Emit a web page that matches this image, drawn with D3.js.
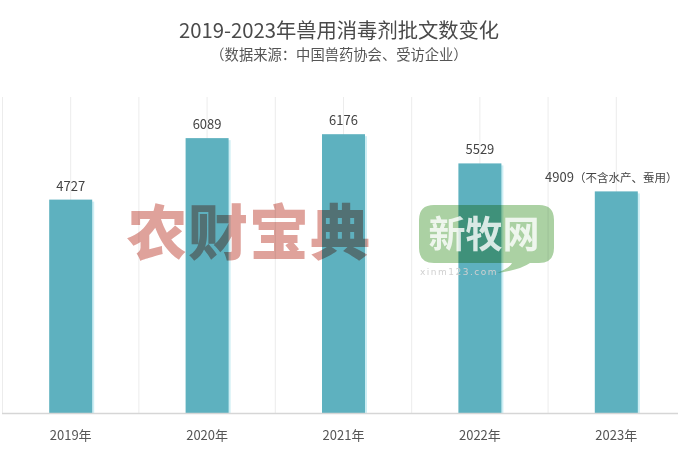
<!DOCTYPE html>
<html><head><meta charset="utf-8">
<script src="https://cdn.jsdelivr.net/npm/d3@7"></script>
<style>
html,body{margin:0;padding:0;background:#fff;}
svg{display:block;font-family:"Noto Sans CJK SC","Noto Sans",sans-serif;}
</style></head>
<body>
<svg id="c" width="678" height="453"></svg>
<script>
const categories = ["2019年","2020年","2021年","2022年","2023年"];
const values = [4727, 6089, 6176, 5529, 4909];
const valueNotes = ["", "", "", "", "（不含水产、蚕用）"];
const titleText = "2019-2023年兽用消毒剂批文数变化";
const subtitleText = "（数据来源：中国兽药协会、受访企业）";

const svg = d3.select("#c");
const W = 678, H = 453;
const x = d3.scaleBand().domain(categories).range([2.5, 684.5]).padding(0);
const y = d3.scaleLinear().domain([0, 7000]).range([413, 97]);
const barW = 43;

// titles
svg.append("text").attr("x", 339).attr("y", 37.5).attr("text-anchor", "middle")
  .attr("font-size", 20.3).attr("fill", "#4a4a4a").text(titleText);
svg.append("text").attr("x", 339).attr("y", 60).attr("text-anchor", "middle")
  .attr("font-size", 14.3).attr("fill", "#555").text(subtitleText);

// gridlines (boundaries and centers)
const g = svg.append("g");
const lines = [];
categories.forEach(c => { lines.push(x(c)); lines.push(x(c) + x.bandwidth() / 2); });
lines.push(x(categories[categories.length - 1]) + x.bandwidth());
g.selectAll("line.grid").data(lines).join("line")
  .attr("x1", d => d).attr("x2", d => d)
  .attr("y1", y(7000)).attr("y2", y(0))
  .attr("stroke", "#ececec").attr("stroke-width", 1);

// bars with soft shadow
g.selectAll("rect.shadow").data(values).join("rect")
  .attr("x", (d, i) => x(categories[i]) + x.bandwidth() / 2 - barW / 2 + 2)
  .attr("y", d => y(d) + 2)
  .attr("width", barW).attr("height", d => y(0) - y(d) - 2)
  .attr("fill", "#cdeef4");
g.selectAll("rect.bar").data(values).join("rect")
  .attr("x", (d, i) => x(categories[i]) + x.bandwidth() / 2 - barW / 2)
  .attr("y", d => y(d))
  .attr("width", barW).attr("height", d => y(0) - y(d))
  .attr("fill", "#5eb1bf");

// axis line
g.append("line").attr("x1", 2).attr("x2", W).attr("y1", y(0) + 0.5).attr("y2", y(0) + 0.5)
  .attr("stroke", "#d6d6d6").attr("stroke-width", 1.5);

// axis labels
const ax = d3.axisBottom(x).tickSize(0).tickPadding(0);
const axg = svg.append("g").attr("transform", `translate(0,${y(0)})`).call(ax);
axg.select(".domain").remove();
axg.selectAll("text").attr("y", 18).attr("font-size", 13).attr("fill", "#555")
  .attr("font-family", "'Noto Sans CJK SC',sans-serif");

// value labels
const lbl = svg.append("g").selectAll("text").data(values).join("text")
  .attr("x", (d, i) => x(categories[i]) + x.bandwidth() / 2 + (valueNotes[i] ? -5 : 0))
  .attr("y", d => y(d) - 9)
  .attr("text-anchor", "middle").attr("font-size", 13).attr("fill", "#444");
lbl.append("tspan").text(d => d);
lbl.append("tspan").attr("font-size", 11.5).text((d, i) => valueNotes[i]);

// watermark 1
svg.append("text").attr("x", 249).attr("y", 255).attr("text-anchor", "middle")
  .attr("font-size", 60).attr("font-weight", 900).attr("fill", "#dfa29b")
  .style("mix-blend-mode", "multiply").attr("letter-spacing", 1).text("农财宝典");

// watermark 2: speech bubble
const wb = svg.append("g").style("mix-blend-mode", "multiply");
wb.append("path")
  .attr("d", "M434,205 H539 Q554,205 554,220 V248 Q554,263 539,263 L530,263 Q520,270 497,273 Q510,268 512,263 L434,263 Q419,263 419,248 V220 Q419,205 434,205 Z")
  .attr("fill", "#abd1a3");
svg.append("text").attr("x", 484).attr("y", 248).attr("text-anchor", "middle")
  .attr("font-size", 37).attr("font-weight", 700).attr("fill", "#fff").attr("fill-opacity", 0.8)
  .text("新牧网");
svg.append("text").attr("x", 420).attr("y", 275).attr("font-size", 9)
  .attr("letter-spacing", 1.5).attr("fill", "#d0d0d0").attr("font-family", "DejaVu Sans, sans-serif")
  .text("xinm123.com");
</script>
</body></html>
